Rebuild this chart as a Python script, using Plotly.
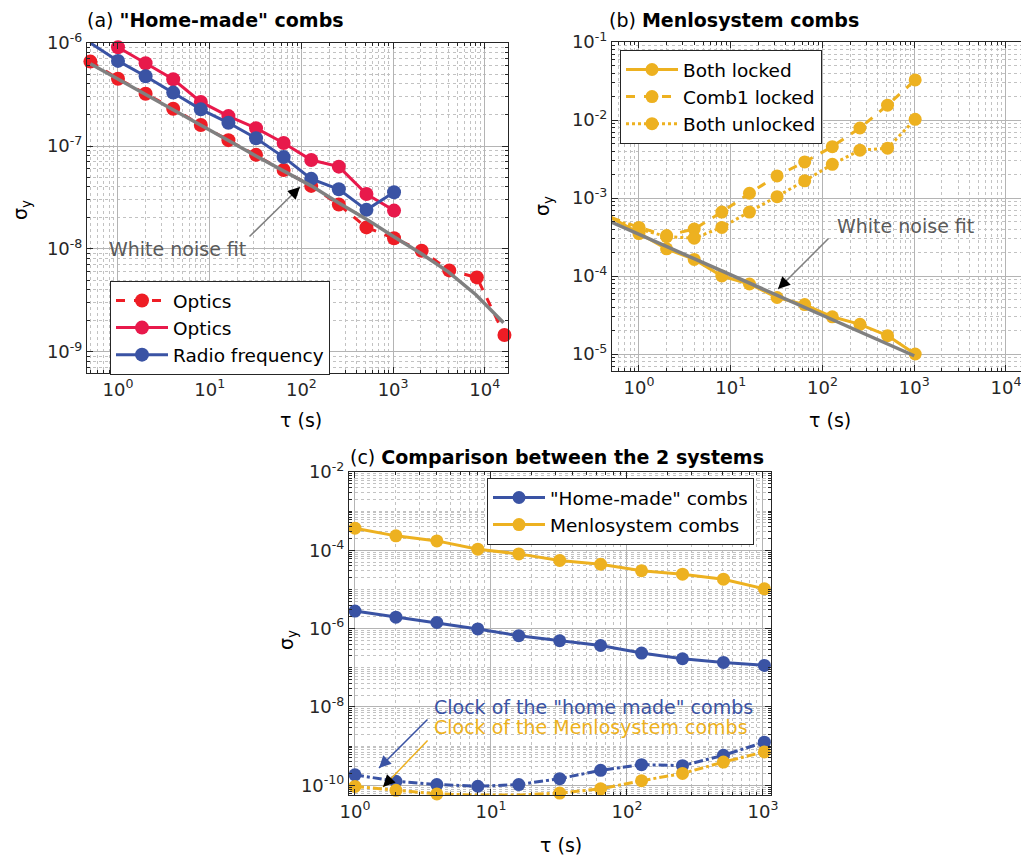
import plotly.graph_objects as go

# ---------------- data ----------------
# (a) "Home-made" combs
tau_a = [0.5, 1, 2, 4, 8, 16, 32, 64, 128, 256, 512, 1024, 2048, 4096, 8192, 16384]
optics_dashed = [6.6e-7, 4.5e-7, 3.22e-7, 2.3e-7, 1.6e-7, 1.14e-7, 8.2e-8, 5.85e-8,
                 4.1e-8, 2.7e-8, 1.62e-8, 1.27e-8, 9.6e-9, 6.2e-9, 5.3e-9, 1.46e-9]
tau_a_solid = [1, 2, 4, 8, 16, 32, 64, 128, 256, 512, 1024]
optics_solid = [9.1e-7, 6.35e-7, 4.45e-7, 2.68e-7, 1.95e-7, 1.49e-7, 1.07e-7, 7.3e-8,
                6.3e-8, 3.42e-8, 2.36e-8]
tau_a_rf = [0.5, 1, 2, 4, 8, 16, 32, 64, 128, 256, 512, 1024]
radio_freq = [1.0e-6, 6.7e-7, 4.75e-7, 3.3e-7, 2.27e-7, 1.68e-7, 1.19e-7, 7.8e-8,
              4.8e-8, 3.8e-8, 2.4e-8, 3.56e-8]
tau_fit_a = [0.5, 1, 2, 4, 8, 16, 32, 64, 128, 256, 512, 1000, 2000, 4000, 8000, 16000]
fit_a = [6.3e-7, 4.45e-7, 3.15e-7, 2.25e-7, 1.6e-7, 1.13e-7, 8.0e-8, 5.7e-8,
         4.1e-8, 2.8e-8, 1.95e-8, 1.33e-8, 9.1e-9, 6.0e-9, 3.6e-9, 1.92e-9]

# (b) Menlosystem combs
tau_b = [0.5, 1, 2, 4, 8, 16, 32, 64, 128, 256, 512, 1024]
both_locked = [5.6e-4, 3.5e-4, 2.23e-4, 1.63e-4, 1.0e-4, 7.9e-5, 5.3e-5, 4.3e-5,
               3.0e-5, 2.4e-5, 1.72e-5, 1.0e-5]
comb1_locked = [5.6e-4, 4.2e-4, 3.3e-4, 4.0e-4, 6.6e-4, 1.15e-3, 1.92e-3, 2.9e-3,
                4.55e-3, 7.9e-3, 1.55e-2, 3.26e-2]
both_unlocked = [5.5e-4, 4.0e-4, 3.2e-4, 3.05e-4, 4.2e-4, 6.6e-4, 1.04e-3, 1.66e-3,
                 2.7e-3, 4.1e-3, 4.35e-3, 1.02e-2]
tau_fit_b = [0.5, 1000]
fit_b = [4.9e-4, 9.5e-6]

# (c) Comparison
tau_c = [1, 2, 4, 8, 16, 32, 64, 128, 256, 512, 1024]
home_made = [2.8e-6, 1.96e-6, 1.43e-6, 9.8e-7, 6.6e-7, 4.9e-7, 3.7e-7, 2.37e-7,
             1.7e-7, 1.37e-7, 1.15e-7]
menlo = [3.67e-4, 2.34e-4, 1.74e-4, 1.07e-4, 8.1e-5, 5.5e-5, 4.4e-5, 3.0e-5,
         2.45e-5, 1.83e-5, 1.04e-5]
clock_home = [1.84e-10, 1.26e-10, 1.04e-10, 9.4e-11, 1.04e-10, 1.47e-10, 2.4e-10,
              3.35e-10, 3.16e-10, 5.8e-10, 1.26e-9]
clock_menlo = [9.3e-11, 7.4e-11, 6.0e-11, 5.6e-11, 5.6e-11, 6.3e-11, 8.1e-11,
               1.3e-10, 2.0e-10, 3.9e-10, 7.1e-10]

# tick labels
x_exp_ab = [0, 1, 2, 3, 4]
y_exp_a = [-9, -8, -7, -6]
y_exp_b = [-5, -4, -3, -2, -1]
x_exp_c = [0, 1, 2, 3]
y_exp_c = [-10, -8, -6, -4, -2]

# ---------------- styling ----------------
OFF = 8                      # page body margin of the browser
W, H = 1029 - OFF, 856 - OFF
FONT = "DejaVu Sans"
RED_D = "#ee1d25"
RED_S = "#e8194b"
BLUE = "#3a53a4"
ORANGE = "#edb120"
GRAY = "#808080"
AXC = "#262626"


def px(x):
    return (x - OFF) / W


def py(y):
    return 1 - (y - OFF) / H


def pw(e):
    return f"10<sup>{e}</sup>"


def minor_vals(lo, hi):
    return [k * 10.0 ** e for e in range(lo, hi) for k in range(2, 10)]


def minor_vals_all(lo, hi):
    return [k * 10.0 ** e for e in range(lo, hi) for k in range(1, 10)]


fig = go.Figure()

# (a)
fig.add_trace(go.Scatter(x=tau_a, y=optics_dashed, mode="lines+markers", name="Optics",
                         line=dict(color=RED_D, width=3, dash="dash"),
                         marker=dict(size=14, color=RED_D), cliponaxis=False,
                         xaxis="x", yaxis="y", legend="legend"))
fig.add_trace(go.Scatter(x=tau_a_solid, y=optics_solid, mode="lines+markers", name="Optics",
                         line=dict(color=RED_S, width=3),
                         marker=dict(size=14, color=RED_S), cliponaxis=False,
                         xaxis="x", yaxis="y", legend="legend"))
fig.add_trace(go.Scatter(x=tau_a_rf, y=radio_freq, mode="lines+markers", name="Radio frequency",
                         line=dict(color=BLUE, width=3),
                         marker=dict(size=14, color=BLUE), cliponaxis=False,
                         xaxis="x", yaxis="y", legend="legend"))
fig.add_trace(go.Scatter(x=tau_fit_a, y=fit_a, mode="lines", showlegend=False,
                         line=dict(color=GRAY, width=3.5), cliponaxis=False,
                         xaxis="x", yaxis="y"))

# (b)
fig.add_trace(go.Scatter(x=tau_b, y=both_locked, mode="lines+markers", name="Both locked",
                         line=dict(color=ORANGE, width=3),
                         marker=dict(size=13, color=ORANGE), cliponaxis=False,
                         xaxis="x2", yaxis="y2", legend="legend2"))
fig.add_trace(go.Scatter(x=tau_b, y=comb1_locked, mode="lines+markers", name="Comb1 locked",
                         line=dict(color=ORANGE, width=3, dash="dash"),
                         marker=dict(size=13, color=ORANGE), cliponaxis=False,
                         xaxis="x2", yaxis="y2", legend="legend2"))
fig.add_trace(go.Scatter(x=tau_b, y=both_unlocked, mode="lines+markers", name="Both unlocked",
                         line=dict(color=ORANGE, width=3, dash="dot"),
                         marker=dict(size=13, color=ORANGE), cliponaxis=False,
                         xaxis="x2", yaxis="y2", legend="legend2"))
fig.add_trace(go.Scatter(x=tau_fit_b, y=fit_b, mode="lines", showlegend=False,
                         line=dict(color=GRAY, width=3.5), cliponaxis=False,
                         xaxis="x2", yaxis="y2"))

# (c)
fig.add_trace(go.Scatter(x=tau_c, y=home_made, mode="lines+markers", name='"Home-made" combs',
                         line=dict(color=BLUE, width=3),
                         marker=dict(size=13, color=BLUE), cliponaxis=False,
                         xaxis="x3", yaxis="y3", legend="legend3"))
fig.add_trace(go.Scatter(x=tau_c, y=menlo, mode="lines+markers", name="Menlosystem combs",
                         line=dict(color=ORANGE, width=3),
                         marker=dict(size=13, color=ORANGE), cliponaxis=False,
                         xaxis="x3", yaxis="y3", legend="legend3"))
fig.add_trace(go.Scatter(x=tau_c, y=clock_home, mode="lines+markers", showlegend=False,
                         line=dict(color=BLUE, width=3, dash="dashdot"),
                         marker=dict(size=13, color=BLUE), cliponaxis=False,
                         xaxis="x3", yaxis="y3"))
fig.add_trace(go.Scatter(x=tau_c, y=clock_menlo, mode="lines+markers", showlegend=False,
                         line=dict(color=ORANGE, width=3, dash="dashdot"),
                         marker=dict(size=13, color=ORANGE), cliponaxis=False,
                         xaxis="x3", yaxis="y3"))


def axis(domain, rng, tickvals, ticktext, minor, anchor):
    return dict(type="log", domain=domain, range=rng, anchor=anchor, automargin=False,
                tickmode="array", tickvals=tickvals, ticktext=ticktext,
                showline=True, linecolor=AXC, linewidth=1, mirror="allticks",
                ticks="inside", ticklen=6, tickcolor=AXC,
                showgrid=True, gridcolor="#b4b4b4", gridwidth=1, zeroline=False,
                tickfont=dict(family=FONT, size=18, color=AXC),
                minor=dict(tickmode="array", tickvals=minor, ticks="inside", ticklen=3,
                           tickcolor=AXC, showgrid=True, gridcolor="#c2c2c2",
                           griddash="dot", gridwidth=1))


def legend(x, y, ew):
    return dict(x=px(x), y=py(y), xanchor="left", yanchor="top",
                bordercolor=AXC, borderwidth=1, bgcolor="white",
                font=dict(family=FONT, size=18.5, color="black"), itemwidth=52,
                entrywidth=ew, entrywidthmode="pixels", tracegroupgap=0)


fig.update_layout(
    width=W, height=H, margin=dict(l=0, r=0, t=0, b=0, autoexpand=False),
    paper_bgcolor="white", plot_bgcolor="white",
    font=dict(family=FONT, size=18, color=AXC),
    xaxis=axis([px(87), px(508)], [-0.338, 4.253], [10.0 ** e for e in x_exp_ab],
               [pw(e) for e in x_exp_ab], minor_vals(-1, 5), "y"),
    yaxis=axis([py(373), py(43)], [-9.204, -6], [10.0 ** e for e in y_exp_a],
               [pw(e) for e in y_exp_a], minor_vals(-10, -6), "x"),
    xaxis2=axis([px(612), px(1028)], [-0.294, 4.24], [10.0 ** e for e in x_exp_ab],
                [pw(e) for e in x_exp_ab], minor_vals(-1, 5), "y2"),
    yaxis2=axis([py(371), py(42)], [-5.218, -1], [10.0 ** e for e in y_exp_b],
                [pw(e) for e in y_exp_b], minor_vals(-6, -1), "x2"),
    xaxis3=axis([px(349), px(771)], [-0.044, 3.059], [10.0 ** e for e in x_exp_c],
                [pw(e) for e in x_exp_c], minor_vals(-1, 4), "y3"),
    yaxis3=axis([py(795), py(472)], [-10.25, -2], [10.0 ** e for e in y_exp_c],
                [pw(e) for e in y_exp_c],
                [v for v in minor_vals_all(-11, -2) if v not in [10.0 ** e for e in y_exp_c]],
                "x3"),
    legend=legend(110, 281, 169),
    legend2=legend(620, 50, 191),
    legend3=legend(487, 478, 212),
)

ann = []


def text(x, y, s, size=19, color="black", angle=0, xanchor="center"):
    ann.append(dict(x=px(x), y=py(y), xref="paper", yref="paper", text=s, showarrow=False,
                    font=dict(family=FONT, size=size, color=color), textangle=angle,
                    xanchor=xanchor, yanchor="middle"))


def arrow(x0, y0, x1, y1, color, headcolor=None, width=1.5):
    # shaft from (x0,y0) to (x1,y1) in pixels, head at (x1,y1)
    ann.append(dict(x=px(x1), y=py(y1), ax=x0 - x1, ay=y0 - y1, xref="paper", yref="paper",
                    axref="pixel", ayref="pixel", text="", showarrow=True, arrowhead=0,
                    arrowwidth=width, arrowcolor=color))
    dx, dy = x1 - x0, y1 - y0
    L = (dx * dx + dy * dy) ** 0.5
    ann.append(dict(x=px(x1), y=py(y1), ax=-dx / L * 14, ay=-dy / L * 14,
                    xref="paper", yref="paper", axref="pixel", ayref="pixel",
                    text="", showarrow=True, arrowhead=2,
                    arrowsize=1.6, arrowwidth=width, arrowcolor=headcolor or color))


# titles
text(85, 20, '(a) <b>"Home-made" combs</b>', xanchor="left")
text(607, 20, "(b) <b>Menlosystem combs</b>", xanchor="left")
text(348, 457, "(c) <b>Comparison between the 2 systems</b>", xanchor="left")

# axis labels
text(301, 420, "τ (s)")
text(830, 420, "τ (s)")
text(561, 845, "τ (s)")
text(22, 210, "σ<sub>y</sub>", angle=-90)
text(543, 206, "σ<sub>y</sub>", angle=-90)
text(287, 640, "σ<sub>y</sub>", angle=-90)

# annotations
text(107, 249, "White noise fit", color="#5a5a5a", xanchor="left")
arrow(248, 238, 300, 187, GRAY, "black")
text(835, 226, "White noise fit", color="#5a5a5a", xanchor="left")
arrow(830, 237, 778, 289, GRAY, "black")
text(432, 707, 'Clock of the "home made" combs', color=BLUE, xanchor="left")
text(432, 727, "Clock of the Menlosystem combs", color=ORANGE, xanchor="left")
arrow(429, 718, 379, 768, BLUE, BLUE)
arrow(429, 739, 383, 787, ORANGE, "black")

fig.update_layout(annotations=ann)

fig.write_html("out.html")
